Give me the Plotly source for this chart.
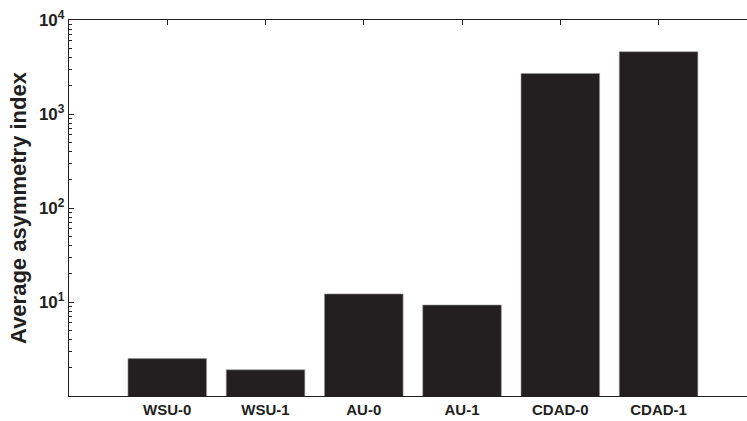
import plotly.graph_objects as go

# Average asymmetry index per scheme
categories = ["WSU-0", "WSU-1", "AU-0", "AU-1", "CDAD-0", "CDAD-1"]
values = [2.5, 1.9, 12.2, 9.3, 2700, 4600]

# Decade tick positions and labels for the log axis
y_tickvals = [1, 10, 100, 1000, 10000]
y_ticktext = ["", "<b>10<sup>1</sup></b>", "<b>10<sup>2</sup></b>",
              "<b>10<sup>3</sup></b>", "<b>10<sup>4</sup></b>"]

bar_color = "#231f20"
axis_color = "#231f20"
font_family = "Liberation Sans, Arial, sans-serif"

fig = go.Figure(
    go.Bar(
        x=categories,
        y=values,
        width=0.8,
        marker=dict(color=bar_color, line=dict(color="#9a9a9a", width=0.6)),
    )
)

fig.update_layout(
    width=747,
    height=421,
    margin=dict(l=69, r=0, t=20, b=25),
    paper_bgcolor="white",
    plot_bgcolor="white",
    showlegend=False,
    font=dict(family=font_family, color=axis_color),
)

fig.update_xaxes(
    type="category",
    range=[-1, 5.9],
    showline=True,
    linecolor=axis_color,
    linewidth=1.3,
    mirror="ticks",
    ticks="inside",
    ticklen=5,
    tickcolor=axis_color,
    tickwidth=1,
    tickfont=dict(size=15, family=font_family, color=axis_color),
    tickvals=categories,
    ticktext=["<b>%s</b>" % c for c in categories],
    showgrid=False,
    zeroline=False,
)

fig.update_yaxes(
    type="log",
    range=[0, 4],
    showline=True,
    linecolor=axis_color,
    linewidth=1.3,
    mirror=False,
    ticks="inside",
    ticklen=5,
    tickcolor=axis_color,
    tickwidth=1,
    tickvals=y_tickvals,
    ticktext=y_ticktext,
    tickfont=dict(size=17, family=font_family, color=axis_color),
    minor=dict(ticks="inside", ticklen=3, tickcolor=axis_color, tickwidth=1,
               dtick="D1", showgrid=False),
    showgrid=False,
    zeroline=False,
    title=dict(text="<b>Average asymmetry index</b>",
               font=dict(size=22, family=font_family, color=axis_color),
               standoff=6),
)

fig.write_html("out.html")
